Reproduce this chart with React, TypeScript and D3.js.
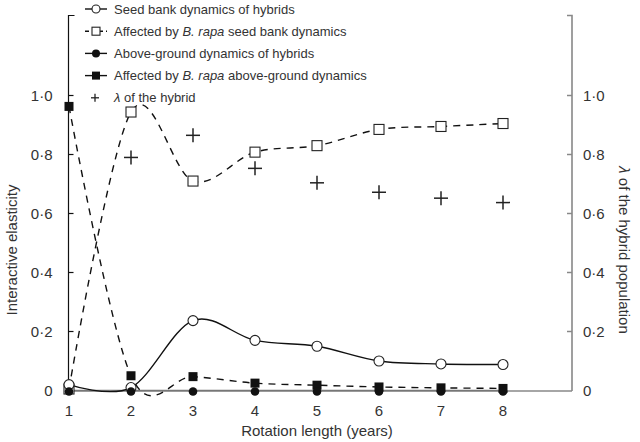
import React from "react";
import * as d3 from "d3";

const years = [1, 2, 3, 4, 5, 6, 7, 8];
const seedBankHybrid = [0.02, 0.01, 0.237, 0.17, 0.15, 0.1, 0.09, 0.088];
const seedBankRapa = [0.005, 0.944, 0.71, 0.808, 0.83, 0.885, 0.895, 0.905];
const aboveHybrid = [0, 0, 0, 0, 0, 0, 0, 0];
const aboveRapa = [0.963, 0.05, 0.047, 0.025, 0.018, 0.012, 0.009, 0.007];
const lambdaYears = [2, 3, 4, 5, 6, 7, 8];
const lambdaHybrid = [0.79, 0.865, 0.753, 0.704, 0.672, 0.652, 0.637];
const yTicks = [0, 0.2, 0.4, 0.6, 0.8, 1.0];
const fmt = (v: number) => (v === 0 ? "0" : v.toFixed(1).replace(".", "·"));

const W = 640, H = 442;
const xLeft = 68.5, xRight = 572;
const x = d3.scaleLinear().domain([1, 8]).range([69, 503]);
const y = d3.scaleLinear().domain([0, 1]).range([390.5, 95.5]);
const font = "'Liberation Sans', Arial, Helvetica, sans-serif";
const txt = "#333";

export default function App() {
  const line = d3
    .line<[number, number]>()
    .x((d) => x(d[0]))
    .y((d) => y(d[1]))
    .curve(d3.curveCatmullRom.alpha(0));
  const pts = (vals: number[]) => years.map((yr, i) => [yr, vals[i]] as [number, number]);

  const legendItems = [
    { label: ["Seed bank dynamics of hybrids"], marker: "oc", dash: false },
    { label: ["Affected by ", "B. rapa", " seed bank dynamics"], marker: "os", dash: true },
    { label: ["Above-ground dynamics of hybrids"], marker: "fc", dash: false },
    { label: ["Affected by ", "B. rapa", " above-ground dynamics"], marker: "fs", dash: false },
    { label: ["λ", " of the hybrid"], marker: "plus", dash: false },
  ];

  const marker = (type: string, cx: number, cy: number, key: string | number) => {
    if (type === "oc") return <circle key={key} cx={cx} cy={cy} r={5} fill="white" stroke="#222" strokeWidth={1.1} />;
    if (type === "fc") return <circle key={key} cx={cx} cy={cy} r={4.3} fill="#111" />;
    if (type === "os") return <rect key={key} x={cx - 5} y={cy - 5} width={10} height={10} fill="white" stroke="#222" strokeWidth={1.1} />;
    if (type === "fs") return <rect key={key} x={cx - 4.5} y={cy - 4.5} width={9} height={9} fill="#111" />;
    return (
      <g key={key} stroke="#222" strokeWidth={1.5}>
        <line x1={cx - 7} x2={cx + 7} y1={cy} y2={cy} />
        <line x1={cx} x2={cx} y1={cy - 7} y2={cy + 7} />
      </g>
    );
  };

  return (
    <svg width={W} height={H} style={{ position: "absolute", left: 0, top: 0, background: "white" }} fontFamily={font}>
      {/* axes */}
      <line x1={xLeft} x2={xRight} y1={391} y2={391} stroke="#888" strokeWidth={1.6} />
      <path d={`M${xLeft + 6},15.5H${xLeft}V391`} fill="none" stroke="#111" strokeWidth={1.2} />
      <path d={`M${xRight - 5},15.5H${xRight}V391`} fill="none" stroke="#888" strokeWidth={1.6} />
      {yTicks.map((t) => (
        <g key={t}>
          {t > 0 && <line x1={xLeft} x2={xLeft + 5} y1={y(t)} y2={y(t)} stroke="#111" strokeWidth={1.2} />}
          <text x={xLeft - 16} y={y(t)} dy="0.35em" textAnchor="end" fontSize={15} fill={txt}>{fmt(t)}</text>
          {t > 0 && <line x1={xRight - 5} x2={xRight} y1={y(t)} y2={y(t)} stroke="#888" strokeWidth={1.5} />}
          <text x={xRight + 11} y={y(t)} dy="0.35em" textAnchor="start" fontSize={15} fill={txt}>{fmt(t)}</text>
        </g>
      ))}
      {years.map((yr) => (
        <text key={yr} x={x(yr)} y={411} dy="0.35em" textAnchor="middle" fontSize={15} fill={txt}>{yr}</text>
      ))}
      <text x={317} y={436} textAnchor="middle" fontSize={15} fill={txt}>Rotation length (years)</text>
      <text transform="translate(17,250) rotate(-90)" textAnchor="middle" fontSize={15} fill={txt}>Interactive elasticity</text>
      <text transform="translate(619,250) rotate(90)" textAnchor="middle" fontSize={15} fill={txt}>
        <tspan fontStyle="italic">λ</tspan> of the hybrid population
      </text>

      {/* lines */}
      <path d={line(pts(aboveHybrid)) || ""} fill="none" stroke="#777" strokeWidth={1.3} />
      <path d={line(pts(seedBankRapa)) || ""} fill="none" stroke="#111" strokeWidth={1.4} strokeDasharray="7,6" />
      <path d={line(pts(aboveRapa)) || ""} fill="none" stroke="#111" strokeWidth={1.4} strokeDasharray="7,6" />
      <path d={line(pts(seedBankHybrid)) || ""} fill="none" stroke="#111" strokeWidth={1.4} />

      {/* markers */}
      {years.map((yr, i) => marker("os", x(yr), y(seedBankRapa[i]), "os" + i))}
      {years.map((yr, i) => marker("fs", x(yr), y(aboveRapa[i]), "fs" + i))}
      {years.map((yr, i) => marker("oc", x(yr), y(seedBankHybrid[i]), "oc" + i))}
      {years.map((yr, i) => marker("fc", x(yr), y(aboveHybrid[i]) + 1, "fc" + i))}
      {lambdaYears.map((yr, i) => marker("plus", x(yr), y(lambdaHybrid[i]), "pl" + i))}

      {/* legend */}
      {legendItems.map((it, i) => {
        const ly = 9 + i * 22.2;
        return (
          <g key={i}>
            {it.marker !== "plus" && (
              <line x1={85} x2={107} y1={ly} y2={ly} stroke="#111" strokeWidth={1.4} strokeDasharray={it.dash ? "4,3" : undefined} />
            )}
            {it.marker === "plus"
              ? (
                <g stroke="#222" strokeWidth={1.3}>
                  <line x1={91} x2={99} y1={ly} y2={ly} />
                  <line x1={95} x2={95} y1={ly - 4} y2={ly + 4} />
                </g>
              )
              : it.marker === "oc"
              ? <circle cx={96} cy={ly} r={4} fill="white" stroke="#222" strokeWidth={1.1} />
              : it.marker === "fc"
              ? <circle cx={96} cy={ly} r={4} fill="#111" />
              : it.marker === "os"
              ? <rect x={92} y={ly - 4} width={8} height={8} fill="white" stroke="#222" strokeWidth={1.1} />
              : <rect x={92} y={ly - 4} width={8} height={8} fill="#111" />}
            <text x={114} y={ly} dy="0.35em" fontSize={13} fill={txt}>
              {it.label.map((s, j) => (
                <tspan key={j} fontStyle={(s === "B. rapa" || s === "λ") ? "italic" : undefined}>{s}</tspan>
              ))}
            </text>
          </g>
        );
      })}
    </svg>
  );
}
